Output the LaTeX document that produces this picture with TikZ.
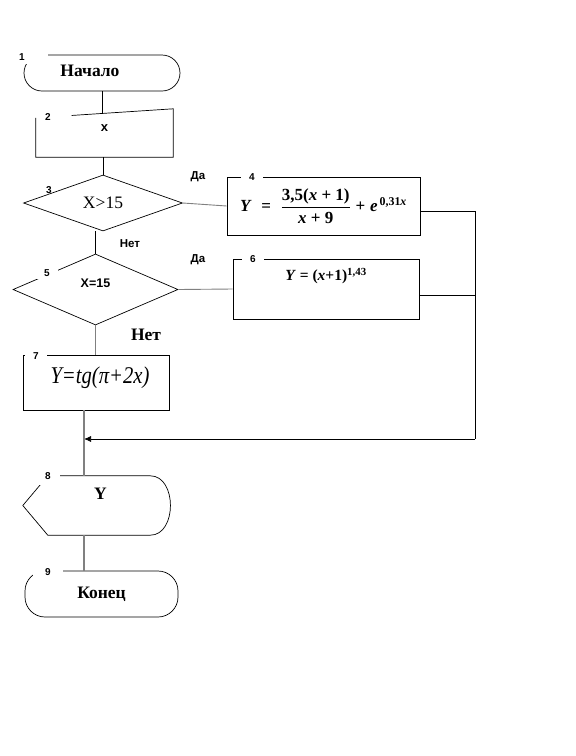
\documentclass[tikz,border=0pt]{standalone}
\usepackage{amsmath}
\usepackage{fontspec}
\setmainfont{Liberation Serif}
\setsansfont{Liberation Sans}
\usepackage{tikz}
\usetikzlibrary{shapes, calc, arrows.meta}

\begin{document}
\begin{tikzpicture}[x=1pt, y=-1pt,
    box/.style={draw, line width=0.7pt, inner sep=0pt},
    term/.style={box, rounded corners=18pt},
    cond/.style={box, diamond},
    title/.style={font=\bfseries\fontsize{17.5}{19}\selectfont},
    tag/.style={font=\sffamily\bfseries\fontsize{11.5}{13}\selectfont},
    num/.style={font=\sffamily\bfseries\fontsize{10}{11}\selectfont, inner sep=1pt},
    gap/.style={num, fill=white, minimum height=10pt},
    wire/.style={line width=0.7pt},
    gwire/.style={line width=0.9pt, gray},
    trunk/.style={line width=1.4pt, gray}]
    \useasboundingbox (0,0) rectangle (576,756);

    % blocks
    \node[term, minimum width=156pt, minimum height=36pt,
          label={[title, xshift=-12pt, yshift=2pt]center:Начало}] (t1) at (102,73) {};
    \node[inner sep=0pt, minimum width=137pt, minimum height=48pt,
          label={[font=\sffamily\bfseries\fontsize{13}{14}\selectfont, yshift=5pt]center:x}] (b2) at (104.5,133) {};
    \draw[wire] ($($(b2.north west)+(0,9)$)!0.26!(b2.north east)$) -- (b2.north east)
        -- (b2.south east) -- (b2.south west) -- ($(b2.north west)+(0,9)$);
    \node[cond, minimum width=159pt, minimum height=56pt,
          font=\fontsize{17.5}{19}\selectfont] (d3) at (103,203) {X>15};
    \node[box, minimum width=193pt, minimum height=58pt,
          font=\bfseries\fontsize{17}{19}\selectfont] (b4) at (323.5,206)
        {$\textbf{\textit{Y}}\;\;\textbf{=}\;\;\dfrac{\textbf{3,5(\textit{x} + 1)}}{\textbf{\textit{x} + 9}}\;\textbf{+}\;\textbf{\textit{e}}^{\,\textbf{0,31\textit{x}}}$};
    \node[cond, minimum width=165pt, minimum height=71pt,
          label={[font=\sffamily\bfseries\fontsize{12.5}{14}\selectfont, yshift=6pt]center:X=15}] (d5) at (95.5,289.5) {};
    \node[box, minimum width=186pt, minimum height=60pt,
          label={[anchor=north, yshift=-6pt, font=\bfseries\fontsize{15.5}{17}\selectfont]north:\textit{Y} = (\textit{x}+1)\textsuperscript{1,43}}] (b6) at (326,289) {};
    \node[box, minimum width=146pt, minimum height=55pt,
          label={[xshift=4pt, yshift=5pt, font=\itshape\fontsize{24}{26}\selectfont]center:\scalebox{0.86}[1]{Y=tg(π+2x)}}] (b7) at (96,382.5) {};
    \node[inner sep=0pt, minimum width=147pt, minimum height=59pt,
          label={[title, xshift=4pt, yshift=12pt]center:Y}] (b8) at (96.5,505.5) {};
    \draw[wire] ($(b8.north west)+(25,0)$) -- ($(b8.north east)+(-20,0)$)
        .. controls ($(b8.north east)+(7,0)$) and ($(b8.south east)+(7,0)$) .. ($(b8.south east)+(-20,0)$)
        -- ($(b8.south west)+(25,0)$) -- (b8.west) -- cycle;
    \node[term, rounded corners=20pt, minimum width=153pt, minimum height=46pt, title] (t9) at (101.5,594) {Конец};

    % numbers
    \node[gap, minimum width=52pt, minimum height=14pt] (n1) at (22,57) {1};
    \node[num] (n2) at (48,117) {2};
    \node[num] (n3) at (49,190) {3};
    \node[gap, minimum width=22pt] (n4) at (252,177) {4};
    \node[gap, minimum width=22pt, minimum height=12pt] (n5) at (47,273) {5};
    \node[gap, minimum width=22pt] (n6) at (253,259) {6};
    \node[gap, minimum width=22pt] (n7) at (36,356) {7};
    \node[gap, minimum width=24pt, minimum height=18pt] (n8) at (48,476) {8};
    \node[gap, minimum width=30pt, minimum height=12pt] (n9) at (48,572) {9};

    % answers
    \node[tag] (da1) at (198,177) {Да};
    \node[tag] (da2) at (198,260) {Да};
    \node[tag] (net1) at (130,244) {Нет};
    \node[title] (net2) at (146,335) {Нет};

    % connectors
    \coordinate (merge) at (84,439);
    \coordinate (bus) at (475,439);
    \draw[wire] (t1.south) -- (t1.south |- 0,114);
    \draw[wire] (d3.north) -- (d3.north |- b2.south);
    \draw[gwire] (d3.east) -- (b4.west);
    \draw[wire] (d5.north) -- (d5.north |- d3.south);
    \draw[gwire] (d5.east) -- (b6.west);
    \draw[gwire] (d5.south) -- (d5.south |- b7.north);
    \draw[wire] ([yshift=-5pt]b4.east) -| (bus);
    \draw[wire] ([yshift=-6pt]b6.east) -- ([yshift=-6pt]b6.east -| bus);
    \draw[wire, -{Latex[length=7pt, width=6pt]}] (bus) -- (merge);
    \draw[trunk] (merge |- b7.south) -- (merge |- b8.north);
    \draw[trunk] (merge |- b8.south) -- (merge |- t9.north);
\end{tikzpicture}
\end{document}
